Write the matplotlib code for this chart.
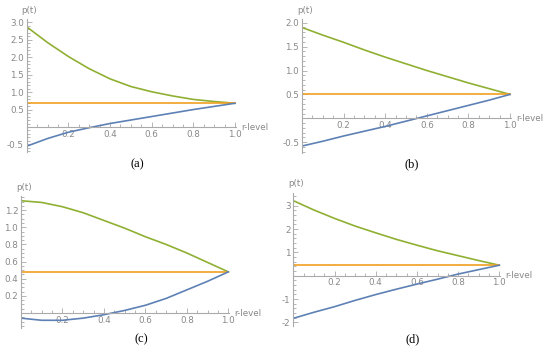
import matplotlib
matplotlib.use('Agg')
import matplotlib.pyplot as plt
from matplotlib.ticker import MultipleLocator, FixedLocator

r = [0.0, 0.1, 0.2, 0.3, 0.4, 0.5, 0.6, 0.7, 0.8, 0.9, 1.0]

# (a)
upper_a = [2.87, 2.42, 2.02, 1.67, 1.38, 1.16, 1.01, 0.89, 0.79, 0.73, 0.68]
lower_a = [-0.55, -0.33, -0.15, -0.02, 0.10, 0.20, 0.30, 0.40, 0.50, 0.59, 0.68]
mid_a = 0.68
# (b)
upper_b = [1.90, 1.74, 1.59, 1.43, 1.28, 1.14, 1.00, 0.87, 0.74, 0.62, 0.50]
lower_b = [-0.58, -0.48, -0.37, -0.27, -0.17, -0.06, 0.05, 0.16, 0.27, 0.38, 0.50]
mid_b = 0.50
# (c)
upper_c = [1.31, 1.29, 1.24, 1.17, 1.08, 0.99, 0.89, 0.80, 0.70, 0.59, 0.48]
lower_c = [-0.06, -0.085, -0.085, -0.06, -0.02, 0.03, 0.09, 0.17, 0.27, 0.37, 0.48]
mid_c = 0.48
# (d)
upper_d = [3.22, 2.82, 2.46, 2.13, 1.84, 1.56, 1.31, 1.07, 0.86, 0.65, 0.45]
lower_d = [-1.83, -1.57, -1.33, -1.06, -0.81, -0.58, -0.36, -0.15, 0.07, 0.26, 0.45]
mid_d = 0.45

xticks = [0.2, 0.4, 0.6, 0.8, 1.0]
yticks_a = [-0.5, 0.5, 1.0, 1.5, 2.0, 2.5, 3.0]
yticks_b = [-0.5, 0.5, 1.0, 1.5, 2.0]
yticks_c = [0.2, 0.4, 0.6, 0.8, 1.0, 1.2]
yticks_d = [-2, -1, 1, 2, 3]

BLUE = '#5E81B5'
ORANGE = '#F0A020'
GREEN = '#8FB032'
GREY = '#888888'

W, H = 550, 353
fig = plt.figure(figsize=(W / 100, H / 100), dpi=100)


def panel(x0, x1, y0px, ppu, ytop, ybot, upper, lower, mid, yticks, yfmt, yminor, caption, cap_xy):
    # x0/x1: pixel x of r=0 and r=1, y0px: pixel y of p=0, ppu: pixels per unit of p
    xmax = 1.012
    left = x0
    width = (x1 - x0) * xmax
    top_px = y0px - ytop * ppu
    bot_px = y0px - ybot * ppu
    ax = fig.add_axes([left / W, 1 - bot_px / H, width / W, (bot_px - top_px) / H])
    ax.plot(r, upper, color=GREEN, lw=1.2)
    ax.plot([r[0], r[-1]], [mid, mid], color=ORANGE, lw=1.2)
    ax.plot(r, lower, color=BLUE, lw=1.2)
    ax.set_xlim(0, xmax)
    ax.set_ylim(ybot, ytop)
    for s in ['top', 'right']:
        ax.spines[s].set_visible(False)
    ax.spines['bottom'].set_position(('data', 0))
    ax.spines['left'].set_position(('data', 0))
    ax.spines['bottom'].set_bounds(0, 1.005)
    for s in ['bottom', 'left']:
        ax.spines[s].set_color('#aaaaaa')
        ax.spines[s].set_linewidth(0.8)
    ax.xaxis.set_major_locator(FixedLocator(xticks))
    ax.xaxis.set_minor_locator(MultipleLocator(0.05))
    ax.yaxis.set_major_locator(FixedLocator(yticks))
    ax.yaxis.set_minor_locator(MultipleLocator(yminor))
    ax.set_xticklabels(['%.1f' % v for v in xticks])
    ax.set_yticklabels([yfmt % v for v in yticks])
    ax.tick_params(which='both', direction='in', color='#aaaaaa', width=0.6,
                   labelsize=6.3, labelcolor=GREY, pad=2)
    ax.tick_params(which='major', length=3.5)
    ax.tick_params(which='minor', length=2)
    ax.patch.set_alpha(0)
    fig.text((x0 - 5) / W, 1 - (top_px - 9) / H, 'p(t)', fontsize=6.3, color=GREY,
             ha='left', va='center')
    fig.text((x0 + (x1 - x0) * 1.03) / W, 1 - y0px / H, 'r-level', fontsize=6.3,
             color=GREY, ha='left', va='center')
    fig.text(cap_xy[0] / W, 1 - cap_xy[1] / H, caption, fontsize=9,
             family='Liberation Serif', ha='center', va='center')
    return ax


panel(26.7, 235, 127, 34.9, 3.09, -0.71, upper_a, lower_a, mid_a, yticks_a, '%.1f', 0.1,
      '(a)', (137, 164))
panel(302, 510, 118.3, 47.8, 2.07, -0.72, upper_b, lower_b, mid_b, yticks_b, '%.1f', 0.1,
      '(b)', (412, 164))
panel(21, 228.3, 313, 85.7, 1.365, -0.17, upper_c, lower_c, mid_c, yticks_c, '%.1f', 0.05,
      '(c)', (141, 339))
panel(293.3, 499.3, 275.7, 23.3, 3.56, -2.16, upper_d, lower_d, mid_d, yticks_d, '%d', 0.2,
      '(d)', (413, 339))

fig.savefig('out.png', dpi=100)
